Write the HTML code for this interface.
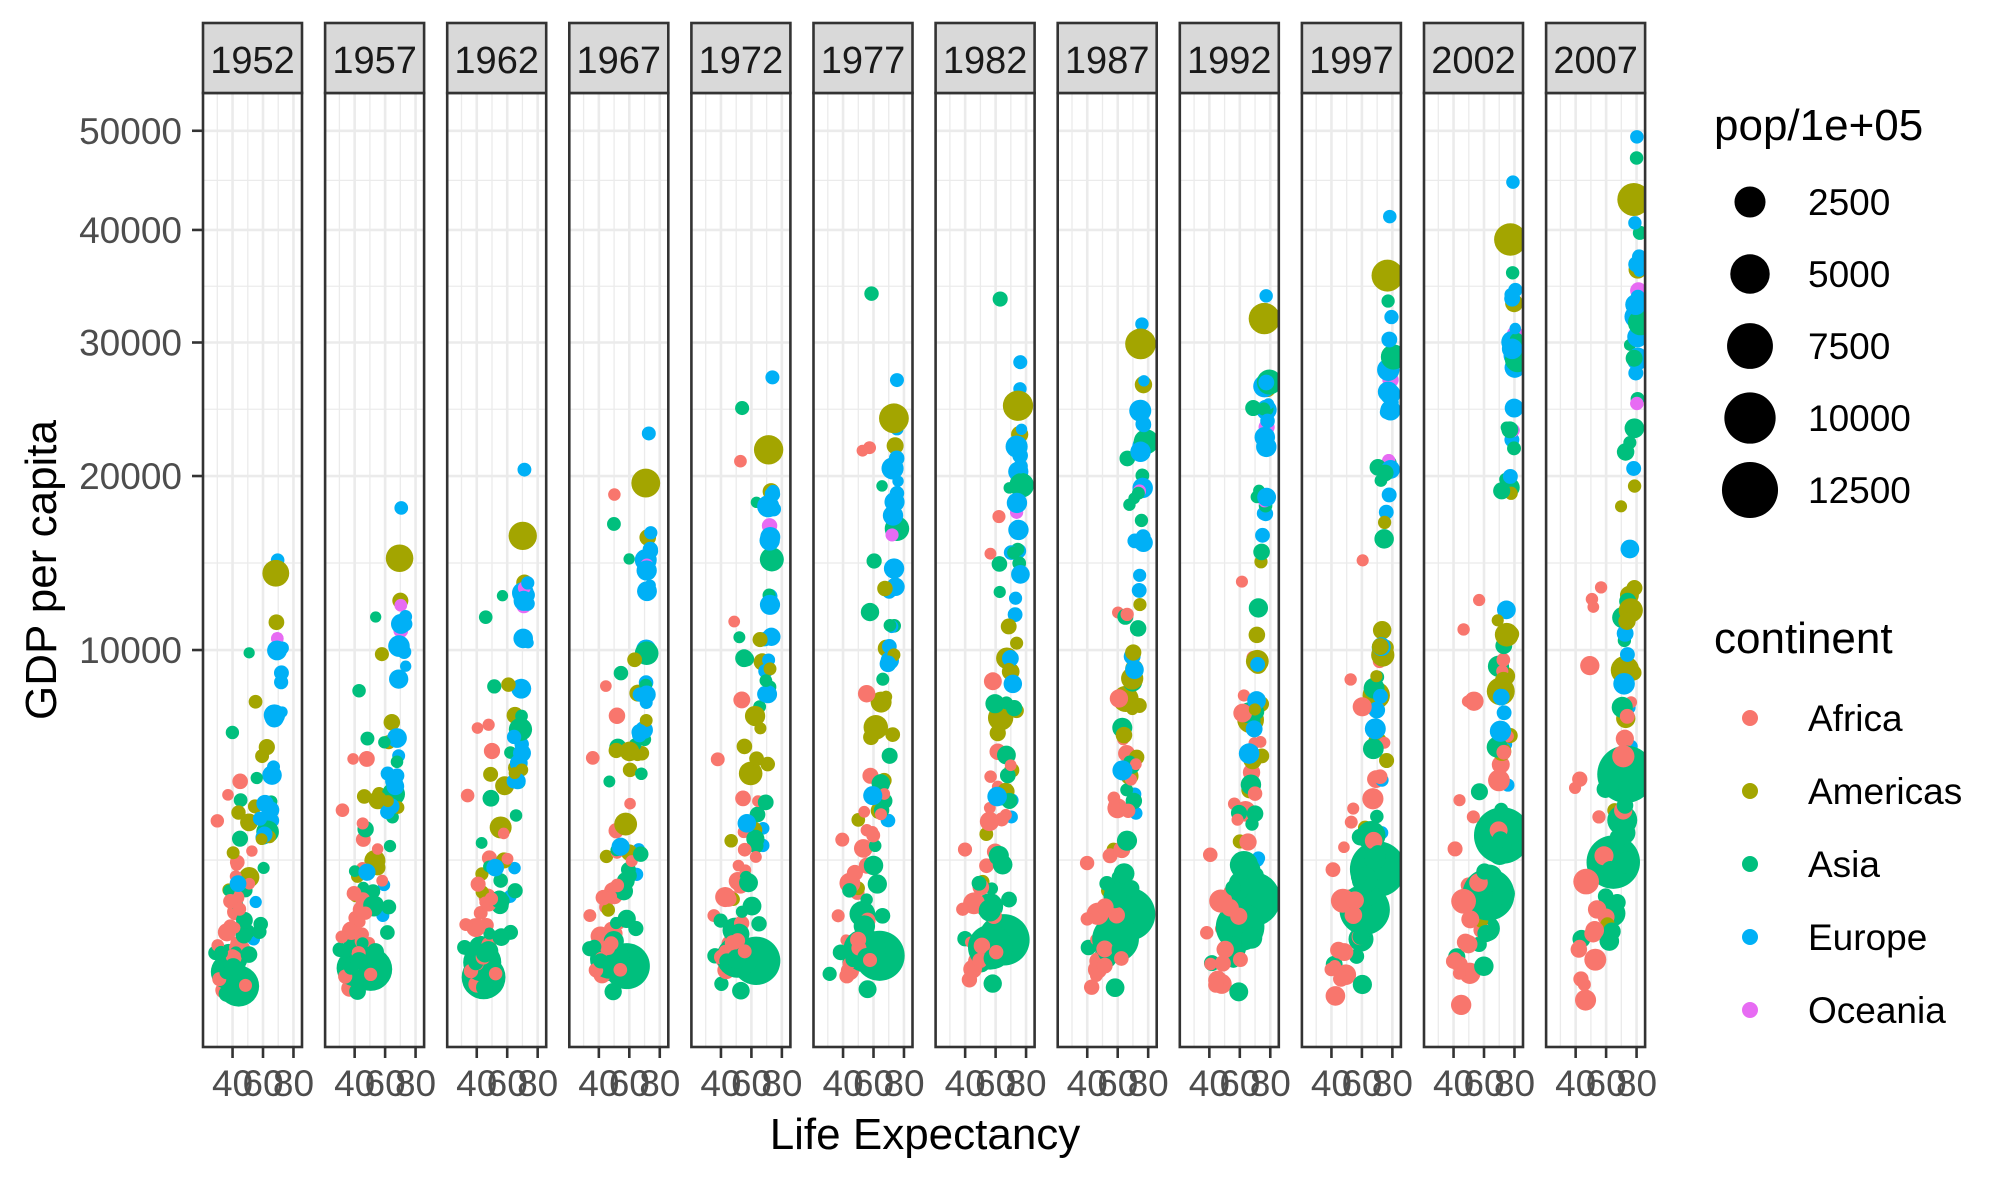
<!DOCTYPE html>
<html><head><meta charset="utf-8">
<style>
html,body{margin:0;padding:0;background:#fff;}
svg{display:block;font-family:"Liberation Sans",Arial,sans-serif;}
</style></head>
<body>
<svg id="chart" width="2007" height="1181" viewBox="0 0 2007 1181" xmlns="http://www.w3.org/2000/svg">
<rect x="0" y="0" width="2007" height="1181" fill="#fff"/>
<g id="panels"></g>
<g id="yaxis"></g>
<text x="925" y="1149" font-size="44" text-anchor="middle" fill="#000">Life Expectancy</text>
<text transform="translate(56,570) rotate(-90)" font-size="44" text-anchor="middle" fill="#000">GDP per capita</text>
<g id="legend"></g>
</svg>
<script>
const years=[1952,1957,1962,1967,1972,1977,1982,1987,1992,1997,2002,2007];
const yTicks=[10000,20000,30000,40000,50000];
const xTicks=[40,60,80];
const sizeBreaks=[2500,5000,7500,10000,12500];
const continents=["Africa","Americas","Asia","Europe","Oceania"];
const contColors=["#F8766D","#A3A500","#00BF7D","#00B0F6","#E76BF3"];
const countries=["Afghanistan","Albania","Algeria","Angola","Argentina","Australia","Bahrain","Bangladesh","Bolivia","Bosnia","Botswana","Brazil","Cambodia","Cameroon","Canada","Chile","China","Colombia","Congo DR","Congo Rep","Cuba","Egypt","Equatorial Guinea","Ethiopia","France","Gabon","Germany","Ghana","Greece","Haiti","Hong Kong","Iceland","India","Indonesia","Iran","Iraq","Ireland","Israel","Italy","Japan","Jordan","Kenya","Korea Dem","Korea Rep","Lebanon","Liberia","Libya","Malaysia","Mauritius","Mexico","Mongolia","Morocco","Mozambique","Myanmar","Nepal","Netherlands","New Zealand","Nigeria","Norway","Oman","Pakistan","Peru","Philippines","Poland","Portugal","Puerto Rico","Reunion","Romania","Saudi Arabia","Serbia","Sierra Leone","Singapore","South Africa","Spain","Sri Lanka","Sudan","Swaziland","Sweden","Switzerland","Taiwan","Tanzania","Thailand","Trinidad","Tunisia","Turkey","Uganda","United Kingdom","United States","Venezuela","Vietnam","Yemen","Zimbabwe","Australia2"];
const countryCont=[2,3,0,0,1,4,2,2,1,3,0,1,2,0,1,1,2,1,0,0,1,0,0,0,3,0,3,0,3,1,2,3,2,2,2,2,3,2,3,2,2,0,2,2,2,0,0,2,0,1,2,0,0,2,2,3,4,0,3,2,2,1,2,3,3,1,0,3,2,3,0,2,0,3,2,0,0,3,3,2,0,2,1,0,3,0,3,1,1,2,2,0,4];
const lifeExp=[
[28.8,30.3,32,34,36.1,38.4,39.9,40.8,41.7,41.8,42.1,43.8],
[55.2,59.3,64.8,66.2,67.7,68.9,70.4,72,71.6,73,75.7,76.4],
[43.1,45.7,48.3,51.4,54.5,58,61.4,65.8,67.7,69.2,71,72.3],
[30,32,34,36,37.9,39.5,39.9,39.9,40.6,41,41,42.7],
[62.5,64.4,65.1,65.6,67.1,68.5,69.9,70.8,71.9,73.3,74.3,75.3],
[69.1,70.3,70.9,71.1,71.9,73.5,74.7,76.3,77.6,78.8,80.4,81.2],
[50.9,53.8,56.9,59.9,63.3,65.6,69,70.8,72.6,73.9,74.8,75.6],
[37.5,39.3,41.2,43.5,45.3,46.9,50,52.8,56,59.4,62,64],
[40.4,41.9,43.4,45,46.7,50,53.9,57.3,60,62.1,63.9,65.6],
[53.8,58.5,61.9,64.8,67.5,69.9,70.7,71.1,72.2,73.2,74.1,74.9],
[47.6,49.6,51.5,53.3,56,59.3,61.5,63.6,62.7,52.6,46.6,50.7],
[50.9,53.3,55.7,57.6,59.5,61.5,63.3,65.2,67.1,69.4,71,72.4],
[39.4,41.4,43.4,45.4,40.3,31.2,51,53.9,55.8,56.5,56.8,59.7],
[38.5,40.4,42.6,44.8,47,49.4,54,55,54.3,52.2,49.9,50.4],
[68.8,70,71.3,72.1,72.9,74.2,75.8,76.9,78,78.6,79.8,80.7],
[54.7,56.1,57.9,60.5,63.4,67,70.6,72.5,74.1,75.8,77.9,78.6],
[44,50.5,44.5,58.4,63.1,64,65.5,67.3,68.7,70.4,72,73],
[50.6,55.1,57.9,60,61.6,63.8,66.7,67.8,68.4,70.3,71.7,72.9],
[39.1,40.5,42.1,44.1,45.9,47.8,47.8,47.4,45.5,42.6,45,46.5],
[42.1,45.1,48.4,51.9,55,55.6,56.7,57.5,56.4,53,53,55.3],
[59.4,62.3,65.2,68.3,70.7,72.6,73.7,74.2,74.4,76.2,77.2,78.3],
[41.9,44.4,47,49.3,51.1,53.3,56,59.8,63.7,67.2,69.8,71.3],
[34.5,36,37.5,39,40.5,42,43.7,45.7,47.5,48.2,49.3,51.6],
[34.1,36.7,40.1,42.1,43.5,44.5,44.9,46.7,48.1,49.4,50.7,52.9],
[67.4,68.9,70.5,71.6,72.4,73.8,74.9,76.3,77.5,78.6,79.6,80.7],
[37,39,40.5,44.6,48.7,52.8,56.6,60.2,61.4,60.5,56.8,56.7],
[67.5,69.1,70.3,70.8,71,72.5,73.8,74.8,76.1,77.3,78.7,79.4],
[43.1,44.8,46.5,48.1,49.9,51.8,53.7,55.7,57.5,58.6,58.5,60],
[65.9,67.9,69.5,71,72.3,73.7,75.2,76.7,77,77.9,78.3,79.5],
[37.6,40.7,43.6,46.2,48,49.9,51.5,53.6,55.1,56.7,58.1,60.9],
[61,64.8,67.7,70,72,73.6,75.5,76.2,77.6,80,81.5,82.2],
[72.5,73.5,73.7,73.7,74.5,76.1,77,77.2,78.8,79,80.5,81.8],
[37.4,40.2,43.6,47.2,50.7,54.2,56.6,58.6,60.2,61.8,62.9,64.7],
[37.5,39.9,42.5,46,49.2,52.7,56.2,60.1,62.7,66,68.6,70.6],
[44.9,47.2,49.3,52.5,55.2,57.7,59.6,63,65.7,68,69.5,71],
[45.3,48.4,51.5,54.5,56.9,60.4,62.5,65,59.5,58.8,57,59.5],
[66.9,68.9,70.3,71.1,71.3,72,73.1,74.4,75.5,76.1,77.8,78.9],
[65.4,67.8,69.4,70.8,71.6,73.1,74.5,75.6,76.9,78.3,79.7,80.7],
[65.9,67.8,69.2,71.1,72.2,73.5,75,76.4,77.4,78.8,80.2,80.5],
[63,65.5,68.7,71.4,73.4,75.4,77.1,78.7,79.4,80.7,82,82.6],
[43.2,45.7,48.1,51.6,56.5,61.1,63.7,65.9,68,69.8,71.3,72.5],
[42.3,44.7,47.9,50.7,53.6,56.2,58.8,59.3,59.3,54.4,51,54.1],
[50,54.1,56.7,59.9,64,67.2,69.1,70.6,70,67.7,66.7,67.3],
[47.5,52.7,55.3,57.7,62.6,64.8,67.1,69.8,72.2,74.6,77,78.6],
[55.9,59.5,62.1,63.9,65.4,66.1,67.1,67.9,69.3,70.3,71,72],
[38.2,39.5,40.5,41.5,42.6,43.8,44.9,46,40.8,42.2,43.8,45.7],
[42.7,45.3,47.8,50.2,52.8,57.4,62.2,66.2,68.8,71.6,72.7,74],
[48.5,52.1,55.7,59.4,63,65.3,68,69.5,70.7,71.9,73,74.2],
[51,58.1,60.2,61.6,62.9,64.9,66.7,68.7,69.7,70.7,72,72.8],
[50.8,55.2,58.3,60.1,62.4,65,67.4,69.5,71.5,73.7,74.9,76.2],
[42.2,45.2,48.3,51.3,53.8,55.5,57.5,60.2,61.3,63.6,65,66.8],
[42.9,45.4,47.9,50.3,52.9,55.7,59.7,62.7,65.4,67.7,69.6,71.2],
[31.3,33.8,36.2,38.1,40.3,42.5,42.8,42.9,44.3,46.3,44,42.1],
[36.3,41.9,45.1,49.4,53.1,56.1,58.1,58.3,59.3,60.3,59.9,62.1],
[36.2,37.7,39.4,41.2,43.9,46.7,49.6,52.5,55.7,59.4,61.3,63.8],
[72.1,73,73.2,73.8,73.8,75.2,76.1,76.8,77.4,78,78.5,79.8],
[69.4,70.3,71.2,71.5,71.9,72.2,73.8,74.3,76.3,77.6,79.1,80.2],
[36.3,37.8,39.4,41,42.8,44.5,45.8,46.9,47.5,47.5,46.6,46.9],
[72.7,73.4,73.5,74.1,74.3,75.4,76,75.9,77.3,78.3,79,80.2],
[37.6,40.1,43.2,46.9,52.1,57.4,62.7,67.7,71.2,72.5,74.2,75.6],
[43.4,45.6,47.7,49.8,51.9,54,56.2,58.2,60.8,61.8,63.6,65.5],
[43.9,46.3,49.1,51.4,55.4,58.4,61.4,64.1,66.5,68.4,69.9,71.4],
[47.8,51.3,54.8,56.4,58.1,60,62.1,64.2,66.5,68.6,70.3,71.7],
[61.3,65.8,67.6,69.6,70.9,70.7,71.3,71,71,72.8,74.7,75.6],
[59.8,61.5,64.4,66.6,69.3,70.4,72.8,74.1,74.9,76,77.3,78.1],
[64.3,68.5,69.6,71.1,72.2,73.4,73.8,74.6,73.9,74.9,77.8,78.7],
[52.7,55.1,57.7,60.5,64.3,67.1,69.9,71.9,73.6,74.8,75.7,76.4],
[61,64.1,66.8,66.8,69.2,69.5,69.7,69.5,69.4,69.7,71.3,72.5],
[39.9,42.9,45.9,49.9,53.9,58.7,63,66.3,68.8,70.5,71.6,72.8],
[58,61.7,64.5,66.9,68.7,70.3,70.2,71.2,71.7,72.2,73.2,74],
[30.3,31.6,32.8,34.1,35.4,36.8,38.4,40,38.3,39.9,41,42.6],
[60.4,63.2,65.8,67.9,69.5,70.8,71.8,73.6,75.8,77.2,78.8,80],
[45,48,50,51.9,53.7,55.5,58.2,60.8,61.9,60.2,53.4,49.3],
[64.9,66.7,69.7,71.4,73.1,74.4,76.3,76.9,77.6,78.8,79.8,80.9],
[57.6,61.5,62.2,64.3,65,65.9,68.8,69,70.4,70.5,70.8,72.4],
[38.6,39.6,40.9,42.9,45.1,47.8,50.3,51.7,53.6,55.4,56.4,58.6],
[41.4,43.4,45.5,48.1,51.5,53.9,56.2,57.7,58.5,54.3,43.9,39.6],
[71.9,72.5,73.4,74.2,74.7,75.4,76.4,77.2,78.2,79.4,80,80.9],
[69.6,70.6,71.3,72.8,73.8,75.4,76.2,77.4,78,79.4,80.6,81.7],
[58.5,62.4,65.2,67.5,69.4,70.6,72.2,73.4,74.3,75.3,77,78.4],
[41.2,43,44.2,45.8,47.6,49.9,51,51.5,50.4,48.5,49.7,52.5],
[50.8,53.6,56.1,58.3,60.4,62.5,64.6,66.1,67.3,67.5,68.6,70.6],
[59.1,61.8,64.9,65.4,65.9,68.3,68.8,69.6,69.9,69.5,69,69.8],
[44.6,47.1,49.6,52.1,55.6,59.8,64,66.9,70,72,73,73.9],
[43.6,48.1,52.1,54.3,57,59.5,61,63.1,66.1,68.8,70.8,71.8],
[40,42.6,45.3,48.1,51,50.4,49.8,51.5,48.8,44.6,47.8,51.5],
[69.2,70.4,70.8,71.4,72,72.8,74,75,76.4,77.2,78.5,79.4],
[68.4,69.5,70.2,70.8,71.3,73.4,74.7,75,76.1,76.8,77.3,78.2],
[55.1,57.9,60.8,63.5,65.7,67.5,68.6,70.2,71.2,72.1,72.8,73.7],
[40.4,42.9,45.4,47.8,50.3,55.8,58.8,62.8,67.7,70.7,73,74.2],
[32.5,33.7,35.2,37,39.8,44.2,49.1,52.9,55.6,58,60.3,62.7],
[48.5,50.5,52.4,54.1,55.6,57.7,60.4,62.4,60.4,46.8,40,43.5],
[69.4,70.3,71.2,71.5,71.9,72.2,73.8,74.3,76.3,77.6,79.1,80.2]
];
const gdpPercap=[
[779,821,853,836,740,786,978,852,649,635,727,975],
[1601,1942,2313,2760,3313,3533,3631,3739,2497,3193,4604,5937],
[2449,3014,2551,3247,4183,4910,5745,5681,5023,4797,5288,6223],
[3521,3828,4270,5523,5473,3009,2757,2430,2628,2277,2773,4797],
[5911,6857,7133,8053,9443,10079,8998,9140,9308,10967,8798,12779],
[10040,10950,12217,14526,16789,18334,19477,21889,23425,26998,30688,34435],
[9867,11636,12753,14805,18269,19340,19211,18524,19036,20292,23404,29796],
[684,662,686,721,630,660,677,752,838,973,1136,1391],
[2677,2128,2181,2587,2980,3548,3157,2754,2962,3326,3413,3822],
[974,1354,1710,2172,2860,3528,4127,4314,2547,4766,6019,7446],
[851,918,984,1215,2264,3215,4551,6206,7954,8647,11004,12570],
[2109,2487,3337,3430,4986,6660,7031,7807,6950,7958,8131,9066],
[368,434,497,523,422,525,625,684,682,734,896,1714],
[1173,1313,1399,1508,1684,1783,2367,2603,1793,1694,1934,2042],
[11367,12490,13462,16077,18971,22091,22899,26627,26343,28955,33329,36319],
[3940,4316,4519,5107,5494,4757,5096,5547,7597,10118,10779,13172],
[400,576,488,613,677,741,962,1379,1656,2289,3119,4959],
[2144,2324,2492,2679,3265,3816,4398,4903,5445,6118,5755,7007],
[781,906,896,861,905,796,674,672,458,312,241,278],
[2126,2315,2464,2678,3213,3260,4880,4201,4016,3484,3633,3633],
[5587,6092,5181,5690,5306,6380,7317,7533,5593,5432,6341,8948],
[1419,1459,1693,1815,2024,2785,3504,3885,3795,4173,4755,5581],
[376,426,582,915,673,958,927,966,1132,2815,7703,12154],
[362,379,419,516,566,556,577,573,421,516,531,691],
[7030,8663,10560,13000,16107,18293,20294,22066,24704,25890,28926,30470],
[4293,5487,6631,8358,11402,21746,15113,11864,13522,14723,12522,13206],
[7144,10188,12902,14746,18016,20513,22032,24639,26505,27789,30036,32170],
[911,1043,1190,1126,1178,993,876,847,925,1005,1112,1328],
[3531,4916,6017,8513,12725,14196,15268,16121,17541,18748,22514,27538],
[1840,1726,1797,1452,1654,1874,2011,1823,1456,1342,1270,1202],
[3054,3629,4693,6198,8316,11186,14561,20038,24757,28378,30209,39725],
[7268,9244,10350,13320,15798,19655,23270,26923,25144,28061,31163,36181],
[547,590,658,700,724,813,856,977,1164,1459,1747,2452],
[750,859,849,762,1111,1383,1517,1748,2383,3119,2874,3541],
[3035,3290,4187,5907,9614,11889,7608,6642,7235,8264,9241,11606],
[4130,6229,8342,8931,9576,14688,14517,11644,3745,3076,4391,4471],
[5211,5599,6632,7656,9531,11151,12618,13873,17559,24522,34077,40676],
[4087,5385,7105,8394,12787,13306,15367,17122,18051,20897,21905,25523],
[4931,6249,8244,10022,12269,14256,16537,19207,22014,24675,27968,28570],
[3217,4318,6577,9848,14779,16610,19384,22376,26825,28817,28605,31656],
[1547,1886,2348,2742,2110,2852,4161,4449,3431,3645,3845,4519],
[854,944,897,1057,1222,1268,1348,1361,1342,1360,1288,1463],
[1088,1571,1621,2144,3702,4106,4106,4106,3726,1690,1647,1593],
[1031,1488,1536,2029,3031,4657,5623,8533,12104,15994,19234,23348],
[4835,6090,5714,6006,7486,8659,7640,5377,6890,8755,9314,10461],
[575,620,634,714,803,640,573,506,637,610,531,415],
[2388,3448,6757,18773,21011,21951,17364,11770,9640,9467,9535,12057],
[1831,1810,2037,2278,2849,3828,4920,5249,7278,10132,10207,12452],
[1968,2034,2529,2476,2575,3710,3689,4784,6058,7426,9021,10957],
[3478,4132,4582,5755,7107,7675,9611,8688,9472,9767,10742,11978],
[786,912,1056,1226,1421,1648,1866,2115,1785,1902,2140,3096],
[1688,1643,1567,1711,1930,2371,2702,2755,2948,2982,3259,3820],
[469,496,556,566,724,503,462,390,410,473,634,824],
[331,350,388,349,357,371,424,385,347,415,611,944],
[546,598,652,676,674,695,718,775,897,1011,1057,1091],
[8942,11277,12791,15363,18795,21210,21400,23651,26791,30246,33725,36798],
[10557,12247,13176,14464,16046,16234,17632,19007,18363,21050,23190,25185],
[1077,1101,1151,1015,1698,1982,1577,1385,1620,1625,1615,2014],
[10095,11654,13450,16362,18965,23311,26299,31541,33966,41283,44684,49357],
[1828,2243,2924,4720,10618,11848,12955,18115,18617,19702,19775,22316],
[685,748,804,943,1049,1176,1444,1705,1972,2049,2093,2606],
[3759,4245,4957,5788,5938,6281,6435,6360,4446,5838,5909,7409],
[1273,1548,1650,1814,1989,2373,2603,2189,2279,2537,2651,3190],
[4029,4734,5339,6557,8006,9508,8451,9082,7739,10160,12002,15390],
[3068,3775,4728,6362,9022,10172,11754,13039,16207,17641,19971,20510],
[3082,3908,5108,6930,9123,9770,10331,12281,14642,16999,18855,19329],
[2719,2769,3174,4022,4100,4320,5268,5304,6102,6072,6316,7670],
[3145,3943,4734,6470,8011,9356,9605,9697,6598,7346,7886,10808],
[6460,8157,11626,16903,24837,34168,33693,21199,24841,20586,19014,21655],
[3581,4981,6290,7992,10523,12980,15181,15871,9325,7915,7236,9787],
[880,1005,1200,1354,1353,1349,1466,1295,1069,574,699,863],
[2315,2844,3675,4977,8597,11210,15169,18862,24769,33519,36023,47143],
[4725,5487,5769,7114,7765,8028,8568,7826,7225,7479,7711,9270],
[3834,4565,5694,7994,10639,13237,13926,15765,18603,20445,24835,28821],
[1084,1073,1075,1136,1213,1349,1648,1876,2154,2664,3015,3970],
[1615,1770,1959,1687,1659,2202,1895,1508,1493,1633,1993,2602],
[1148,1244,1597,1712,2371,3781,3895,3984,3553,3877,4128,4513],
[8528,9912,12329,15258,17832,18856,20667,23587,23880,25267,29342,33860],
[14734,17909,20431,22966,27195,26982,28398,30282,31872,32136,34481,37506],
[1207,1508,1823,2644,4063,5597,7426,11055,15216,20207,23235,28718],
[717,699,722,849,916,963,875,832,825,789,899,1107],
[757,794,1002,1296,1524,1962,2393,2982,4616,5852,5913,7458],
[3023,4100,4997,5622,6620,7900,9119,7388,7370,8793,11461,18009],
[1469,1395,1661,1933,2753,3121,3561,3811,4333,4877,5723,7093],
[1970,2219,2323,2827,3451,4269,4241,5089,5678,6601,6508,8458],
[735,775,768,908,950,844,682,618,644,816,927,1056],
[9980,11283,12477,14143,15895,17429,18232,21665,22705,26075,29479,33203],
[13990,14847,16173,19530,21806,24073,25010,29884,32004,35767,39097,42952],
[7690,9802,8422,9541,10505,13144,11152,9883,10733,10165,8605,11416],
[605,676,772,637,700,714,707,821,989,1386,1764,2442],
[781,804,826,862,1266,1830,1978,1972,1879,2117,2235,2281],
[407,519,527,570,799,686,788,706,693,792,672,470],
[10557,12247,13176,14464,16046,16234,17632,19007,18363,21050,23190,25185]
];
const popMillions=[
[8.4,9.2,10.3,11.5,13.1,14.9,12.9,13.9,16.3,22.2,25.3,31.9],
[1.28,1.48,1.73,1.98,2.26,2.5,2.78,3.08,3.33,3.43,3.51,3.6],
[9.3,10.3,11,12.8,14.8,17.2,20,23.3,26.3,29.1,31.3,33.3],
[4.2,4.6,4.8,5.2,5.9,6.2,7,7.9,8.7,9.9,10.9,12.4],
[18,20,22,23,25,27,29,31,33,36,38,40],
[8.7,9.7,10.8,11.9,13.2,14.1,15.2,16.3,17.5,18.6,19.5,20.4],
[0.12,0.14,0.17,0.2,0.23,0.3,0.38,0.45,0.53,0.6,0.66,0.71],
[46,51,57,62,70,80,93,103,114,123,135,150],
[2.9,3.2,3.6,4,4.6,5.1,5.6,6.2,6.9,7.7,8.4,9.1],
[2.8,3.1,3.35,3.6,3.8,4.1,4.2,4.3,4.4,3.6,4.2,4.6],
[0.44,0.47,0.51,0.55,0.62,0.78,0.97,1.15,1.34,1.54,1.63,1.64],
[57,65,76,88,100,114,129,142,155,168,180,190],
[4.7,5.3,6.1,7,7.5,7,7.3,8.4,10.2,11.8,12.9,14.1],
[5,5.4,5.8,6.3,7,8,9.25,10.8,12.5,14.2,15.9,17.7],
[14.8,17,19,20.8,22.3,23.8,25.2,26.5,28.5,30.3,31.9,33.4],
[6.4,7,7.6,8.5,9.7,10.6,11.5,12.5,13.6,14.6,15.5,16.3],
[556,637,666,755,862,943,1000,1084,1165,1230,1280,1319],
[12.4,14.5,17,19.8,22.5,25.1,27.8,31,34.2,37.7,41,44.2],
[14,15.6,17.5,19.9,23,26.5,30.6,35.5,41.7,47.8,55.4,64.6],
[0.85,0.94,1.05,1.2,1.34,1.54,1.77,2.06,2.4,2.8,3.3,3.8],
[6,6.6,7.3,8.1,8.8,9.5,9.8,10.2,10.7,11,11.2,11.4],
[22,25,28,31,34,38,45,52,59,66,73,80],
[0.22,0.23,0.24,0.26,0.28,0.19,0.26,0.36,0.39,0.44,0.5,0.55],
[20,22,24,27,31,34,38,42,52,60,67,76],
[42,44,47,50,52,53,54,56,57,58,59,61],
[0.42,0.43,0.46,0.49,0.54,0.71,0.75,0.88,0.99,1.13,1.3,1.45],
[69,71,74,76,78,78,78,77,80,82,82,82],
[5.6,6.4,7.4,8.5,9.4,10.5,11.4,14.2,16.3,18.4,20.6,22.9],
[7.7,8.1,8.4,8.7,8.9,9.3,9.8,10,10.3,10.5,10.6,10.7],
[3.2,3.5,3.9,4.3,4.7,5,5.2,5.8,6.3,6.9,7.6,8.5],
[2.1,2.7,3.3,3.7,4.1,4.6,5.3,5.5,5.8,6.5,6.8,7],
[0.15,0.17,0.18,0.2,0.21,0.22,0.23,0.24,0.26,0.27,0.29,0.3],
[372,409,454,506,567,634,708,788,872,959,1034,1110],
[82,90,99,110,121,137,153,169,184,200,212,224],
[17,19,22,25,30,35,43,52,60,63,66,69],
[5.4,6.2,7.2,8.5,10,11.9,14.2,16.5,17.9,20.8,24,27.5],
[2.95,2.88,2.83,2.9,3.02,3.27,3.48,3.54,3.56,3.67,3.88,4.1],
[1.6,1.9,2.3,2.7,3.1,3.5,3.86,4,4.9,5.5,6,6.4],
[47,49,51,53,54,56,56,57,57,57,57,58],
[86,91,95,100,107,114,118,122,124,126,127,127],
[0.6,0.75,0.93,1.26,1.6,1.9,2.3,2.8,3.9,4.5,5.3,6.05],
[6.5,7.5,8.7,10.2,12.2,14.5,17.7,21.2,25,28.3,31.4,35.6],
[8.9,9.4,10.9,12.6,14.8,16.3,17.6,19.1,20.7,21.6,22.2,23.3],
[20.9,22.6,26.4,30.1,33.5,36.4,39.3,41.6,43.8,46.2,48,49],
[1.4,1.6,1.9,2.2,2.7,3.1,3.1,3.1,3.2,3.4,3.7,3.9],
[0.86,0.98,1.1,1.28,1.48,1.7,1.96,2.27,1.9,2.2,2.8,3.2],
[1,1.1,1.3,1.8,2.2,2.7,3.3,3.8,4.4,4.8,5.4,6],
[6.7,7.7,8.9,10.2,11.4,12.8,14.4,16.3,18.3,20.5,22.7,24.8],
[0.52,0.61,0.7,0.79,0.85,0.91,0.99,1.04,1.1,1.15,1.2,1.25],
[30,35,41,47,55,63,71,80,88,95,102,109],
[0.8,0.88,1,1.15,1.3,1.5,1.7,2,2.3,2.5,2.7,2.9],
[9.9,11.4,13.1,15,16.7,18.4,20.2,23,25.8,28.5,31.2,33.8],
[6.4,7,7.8,8.7,9.8,11.1,12.6,12.9,13.2,16.6,18.5,20],
[20,21.7,23.6,25.9,28.5,31.5,34.7,38,40.5,43.2,45.6,47.8],
[9.2,9.7,10.3,11.3,12.4,13.9,15.8,17.9,20.3,23,25.9,28.9],
[10.4,11,11.8,12.6,13.3,13.9,14.3,14.7,15.2,15.6,16.1,16.6],
[2,2.1,2.5,2.7,2.9,3.2,3.2,3.3,3.4,3.7,3.9,4.1],
[33,37,41,47,53,62,74,81,93,106,119,135],
[3.3,3.5,3.6,3.8,3.9,4,4.1,4.2,4.3,4.4,4.5,4.6],
[0.5,0.56,0.63,0.71,0.83,1,1.3,1.6,1.9,2.3,2.7,3.2],
[41,44,48,54,61,69,78,92,112,135,154,169],
[8,9.1,10.5,12.1,14,16,18.1,20.2,22.4,24.7,26.8,28.7],
[22,26,30,35,40,46,53,60,67,75,82,91],
[25.7,28.2,30.3,31.8,33,34.6,36.2,37.7,38.4,38.7,38.6,38.5],
[8.5,8.8,9,9.1,9,9.7,9.9,9.9,9.9,10.2,10.4,10.6],
[2.2,2.26,2.45,2.65,2.85,3.08,3.28,3.44,3.59,3.76,3.86,3.94],
[0.26,0.31,0.36,0.41,0.46,0.49,0.52,0.56,0.62,0.68,0.74,0.8],
[16.6,17.8,18.7,19.3,20.7,21.7,22.4,22.7,22.8,22.6,22.4,22.3],
[4,4.4,4.9,5.6,6.5,8.1,11.3,14.6,16.9,21.2,24.5,27.6],
[6.7,7,7.6,8,8.3,8.7,9,9.2,9.8,10.3,10.1,10.2],
[2.1,2.3,2.5,2.7,2.9,3.1,3.5,3.9,4.26,4.58,5.4,6.1],
[1.1,1.4,1.75,1.98,2.15,2.33,2.65,2.79,3.24,3.8,4.2,4.55],
[14,16,18,20,23,27,31,35,39,42,44,44],
[28.5,29.8,31.2,32.9,34.5,36.4,38,38.9,39.5,39.9,40.2,40.4],
[8,9.1,10.4,11.7,13,14.1,15.4,16.5,17.6,18.7,19.6,20.4],
[8.5,9.8,11.2,12.7,14.6,17.1,20.4,24.7,28.2,32.2,37.1,42.3],
[0.29,0.33,0.37,0.42,0.48,0.55,0.65,0.78,0.96,1.05,1.13,1.13],
[7.1,7.4,7.6,7.9,8.1,8.3,8.3,8.4,8.7,8.9,8.95,9],
[4.8,5.1,5.7,6.1,6.4,6.3,6.5,6.7,6.9,7.2,7.4,7.55],
[8.6,10.2,11.9,13.6,15.2,16.8,18.5,19.8,20.7,21.6,22.5,23.2],
[8.3,9.1,10.1,11.8,13.9,17.1,19.8,23,26.6,30.7,34.6,38.1],
[21,25,29,34,39,44,48,53,57,60,62,65],
[0.66,0.76,0.89,0.96,0.98,1.04,1.1,1.2,1.2,1.1,1.1,1.06],
[3.6,3.9,4.3,4.8,5.3,6,6.7,7.7,8.5,9.2,9.8,10.3],
[22,25,29,33,37,42,47,52,58,63,67,71],
[5.8,6.7,7.7,8.9,10.2,11.5,12.9,15.3,18.3,21.2,24.7,29.2],
[50,51,53,55,56,56,56,57,58,58,59,61],
[157,172,187,199,210,220,232,243,257,272,288,301],
[5.4,6.6,8.1,9.7,11.5,13.5,15.6,17.9,20.3,22.6,24.3,26.1],
[26,28,33,37,44,50,56,62,69,76,80,85],
[5,5.5,6,6.6,7.1,8.4,9.7,11.2,13.4,15.8,18.7,22.2],
[3.1,3.6,4.3,5,5.9,6.6,7.6,9.2,10.7,11.4,11.9,12.3],
[2,2.1,2.5,2.7,2.9,3.2,3.2,3.3,3.4,3.7,3.9,4.1]
];

const NS="http://www.w3.org/2000/svg";
function mk(tag,attrs,parent){const e=document.createElementNS(NS,tag);for(const k in attrs)e.setAttribute(k,attrs[k]);parent.appendChild(e);return e;}
const P0=203,PITCH=122.1,PW=99,PT=93,PB=1047,ST=23;
const X0=20.6,X1=85.6,S0=5.5,S1=232.6;
function xs(i,v){return P0+i*PITCH+(v-X0)/(X1-X0)*PW;}
function ys(v){return PB-(Math.sqrt(v)-S0)/(S1-S0)*(PB-PT);}
function diam(p){return 10.8+0.405*Math.sqrt(p);}
const panels=document.getElementById('panels');
const order=countries.map((c,i)=>i).sort((a,b)=>countries[a]<countries[b]?-1:1);
const yMinor=[2500];for(let k=0;k<yTicks.length-1;k++){const a=Math.sqrt(yTicks[k]),b=Math.sqrt(yTicks[k+1]);yMinor.push(((a+b)/2)**2);}
yMinor.push(((Math.sqrt(50000)+Math.sqrt(60000))/2)**2);
const xMinor=[30,50,70];
years.forEach((yr,i)=>{
  const L=P0+i*PITCH;
  const g=mk('g',{},panels);
  
  
  const clipId='clip'+i;
  const cp=mk('clipPath',{id:clipId},g);mk('rect',{x:L,y:PT,width:PW,height:PB-PT},cp);
  const bg=mk('rect',{x:L,y:PT,width:PW,height:PB-PT,fill:'#fff'},g);
  
  
  const grid=mk('g',{'clip-path':'url(#'+clipId+')'},g);
  
  
  yMinor.forEach(v=>{const y=ys(v);if(y>PT&&y<PB)mk('line',{x1:L,x2:L+PW,y1:y,y2:y,stroke:'#ebebeb','stroke-width':1.3},grid);});
  xMinor.forEach(v=>{const x=xs(i,v);mk('line',{x1:x,x2:x,y1:PT,y2:PB,stroke:'#ebebeb','stroke-width':1.3},grid);});
  yTicks.forEach(v=>{const y=ys(v);mk('line',{x1:L,x2:L+PW,y1:y,y2:y,stroke:'#ebebeb','stroke-width':2.6},grid);});
  xTicks.forEach(v=>{const x=xs(i,v);mk('line',{x1:x,x2:x,y1:PT,y2:PB,stroke:'#ebebeb','stroke-width':2.6},grid);});
  const pts=mk('g',{'clip-path':'url(#'+clipId+')'},g);
  
  
  order.forEach(c=>{
    const cc=mk('circle',{cx:xs(i,lifeExp[c][i]),cy:ys(gdpPercap[c][i]),r:diam(popMillions[c][i]*10)/2,fill:contColors[countryCont[c]]},pts);
    
    
  });
  const br=mk('rect',{x:L,y:PT,width:PW,height:PB-PT,fill:'none',stroke:'#333','stroke-width':2.6},g);
  
  
  const strip=mk('rect',{x:L,y:ST,width:PW,height:PT-ST,fill:'#d9d9d9',stroke:'#333','stroke-width':2.6},g);
  
  
  const st=mk('text',{x:L+PW/2,y:73,'font-size':38,'text-anchor':'middle',fill:'#1a1a1a'},g);
  st.textContent=yr;
  
  
  xTicks.forEach(v=>{
    const x=xs(i,v);
    const tk=mk('line',{x1:x,x2:x,y1:PB,y2:PB+11,stroke:'#333','stroke-width':2.6},g);
    
    
    const tl=mk('text',{x:x,y:1096,'font-size':37,'text-anchor':'middle',fill:'#4d4d4d'},g);
    tl.textContent=v;
    
    
  });
});
const yax=document.getElementById('yaxis');
yTicks.forEach(v=>{
  const y=ys(v);
  const tk=mk('line',{x1:P0-11,x2:P0,y1:y,y2:y,stroke:'#333','stroke-width':2.6},yax);
  
  
  const tl=mk('text',{x:P0-21,y:y+13,'font-size':37,'text-anchor':'end',fill:'#4d4d4d'},yax);
  tl.textContent=v;
  
  
});
const lg=document.getElementById('legend');
const t1=mk('text',{x:1714,y:140,'font-size':44,fill:'#000'},lg);
t1.textContent='pop/1e+05';


sizeBreaks.forEach((s,k)=>{
  const cy=202+k*72;
  const c=mk('circle',{cx:1750,cy:cy,r:diam(s)/2,fill:'#000'},lg);
  
  
  const t=mk('text',{x:1808,y:cy+13,'font-size':37,fill:'#000'},lg);
  t.textContent=s;
  
  
});
const t2=mk('text',{x:1714,y:653,'font-size':44,fill:'#000'},lg);
t2.textContent='continent';


continents.forEach((c,k)=>{
  const cy=718+k*73;
  const d=mk('circle',{cx:1750,cy:cy,r:8,fill:contColors[k]},lg);
  
  
  const t=mk('text',{x:1808,y:cy+13,'font-size':37,fill:'#000'},lg);
  t.textContent=c;
  
  
});
</script>
</body></html>
